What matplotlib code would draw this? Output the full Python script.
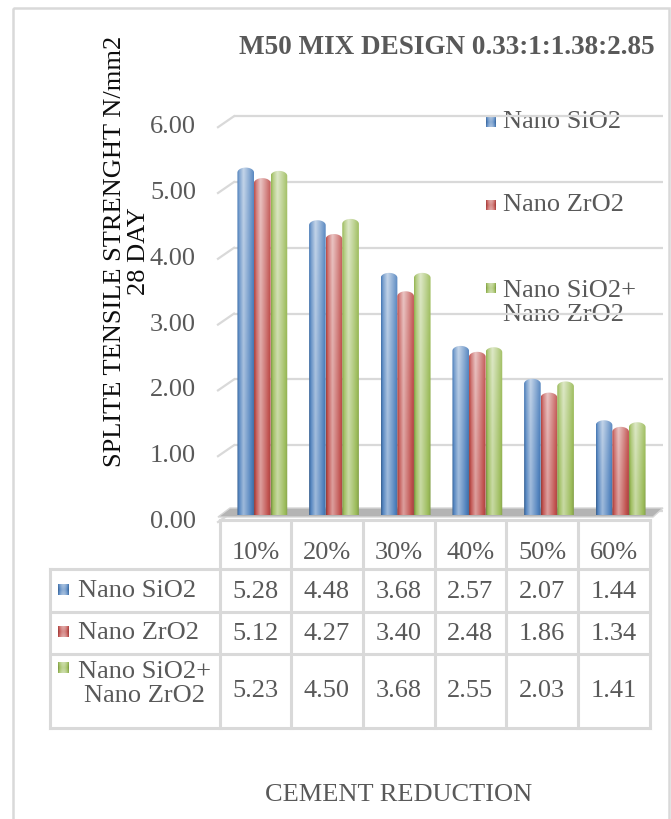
import numpy as np
import matplotlib
matplotlib.use("Agg")
import matplotlib.pyplot as plt
from matplotlib.path import Path
from matplotlib.patches import Rectangle, Polygon, PathPatch

# ---- data ----
categories = ["10%", "20%", "30%", "40%", "50%", "60%"]
series_names = ["Nano SiO2", "Nano ZrO2", "Nano SiO2+\nNano ZrO2"]
nano_sio2 = [5.28, 4.48, 3.68, 2.57, 2.07, 1.44]
nano_zro2 = [5.12, 4.27, 3.40, 2.48, 1.86, 1.34]
nano_mix = [5.23, 4.50, 3.68, 2.55, 2.03, 1.41]
y_ticks = [0, 1, 2, 3, 4, 5, 6]
title = "M50 MIX DESIGN 0.33:1:1.38:2.85"
y_label = "SPLITE TENSILE STRENGHT N/mm2\n28 DAY"
x_label = "CEMENT REDUCTION"

series_values = [nano_sio2, nano_zro2, nano_mix]
series_colors = ["#4F81BD", "#C0504D", "#9BBB59"]

W, H = 671, 819
FONT = "Liberation Serif"
GRAY = "#595959"
LINE = "#d9d9d9"

fig = plt.figure(figsize=(W / 100, H / 100), dpi=100)
fig.patch.set_facecolor("white")

# overlay axes in pixel units for frame, table and labels
fx = fig.add_axes([0, 0, 1, 1])
fx.set_xlim(0, W)
fx.set_ylim(H, 0)
fx.axis("off")

# plot axes geometry (pixels)
X_LEFT, X_RIGHT = 219.5, 649.5
COL = (X_RIGHT - X_LEFT) / len(categories)
Y_ZERO, Y_TOP = 515.0, 115.0
PX_PER_UNIT = 65.8

ax = fig.add_axes([X_LEFT / W, 1 - Y_ZERO / H, (X_RIGHT - X_LEFT) / W, (Y_ZERO - Y_TOP) / H])
ax.set_xlim(-0.5, len(categories) - 0.5)
ax.set_ylim(0, (Y_ZERO - Y_TOP) / PX_PER_UNIT)
ax.axis("off")
ax.set_zorder(2)
fx.set_zorder(1)


def px2x(px):
    return (px - X_LEFT) / COL - 0.5


def dy(px):
    return px / PX_PER_UNIT


# chart frame
fx.add_patch(Rectangle((12.5, 7.5), 656, 830, fill=False, ec=LINE, lw=1.8))

# back wall gridlines and side wall slants
for v in y_ticks:
    ax.plot([px2x(234), px2x(663)], [v + dy(4), v + dy(4)], color=LINE, lw=1.6,
            clip_on=False, zorder=1, solid_capstyle="butt")
    ax.plot([px2x(218), px2x(234)], [v - dy(7), v + dy(4)], color=LINE, lw=1.6,
            clip_on=False, zorder=1)
    ax.text(px2x(196), v - dy(7), f"{v:.2f}", ha="right", va="center",
            fontsize=19, family=FONT, color=GRAY, clip_on=False)

# floor
floor = Polygon([(px2x(218), -dy(2)), (px2x(653), -dy(2)),
                 (px2x(663), dy(7)), (px2x(230), dy(7))],
                closed=True, fc="#b4b4b4", ec="#d6d6d6", lw=1.0, clip_on=False, zorder=1.5)
ax.add_patch(floor)


def cylinder_image(base, ny=120, nx=40, vert=0.22):
    rgb = np.array(matplotlib.colors.to_rgb(base))
    t = np.linspace(0, 1, nx)
    # horizontal lighting: dark edge, highlight left of centre, darker right edge
    light = np.interp(t, [0, 0.12, 0.38, 0.7, 1.0], [-0.25, 0.05, 0.45, 0.15, -0.15])
    yy = np.linspace(0, 1, ny)[:, None]
    light = light[None, :] + vert * yy ** 1.5
    img = np.empty((ny, nx, 3))
    for c in range(3):
        pos = rgb[c] + (1 - rgb[c]) * np.clip(light, 0, None)
        neg = rgb[c] * (1 + np.clip(light, None, 0))
        img[:, :, c] = np.where(light >= 0, pos, neg)
    return np.clip(img, 0, 1)


def key_image(base, n=12):
    rgb = np.array(matplotlib.colors.to_rgb(base))
    t = np.linspace(-1, 1, n)
    tx, ty = np.meshgrid(t, t)
    # bevelled square: darker sides, lighter middle band
    light = 0.35 - 0.55 * np.abs(tx) ** 2 + 0.15 * np.abs(ty)
    img = np.empty((n, n, 3))
    for c in range(3):
        pos = rgb[c] + (1 - rgb[c]) * np.clip(light, 0, None)
        neg = rgb[c] * (1 + np.clip(light, None, 0))
        img[:, :, c] = np.where(light >= 0, pos, neg)
    return np.clip(img, 0, 1)


bar_w = 16.6 / COL
shift = 7.0 / COL
cap = dy(5)
x_idx = np.arange(len(categories))
for s, (vals, col) in enumerate(zip(series_values, series_colors)):
    xs = x_idx + shift + (s - 1) * bar_w
    bars = ax.bar(xs, vals, width=bar_w, color="none", edgecolor="none", zorder=3)
    img = cylinder_image(col)
    for b in bars:
        x0, w, h = b.get_x(), b.get_width(), b.get_height()
        tt = np.linspace(0, np.pi, 30)
        arc_x = x0 + w / 2 - (w / 2) * np.cos(tt)
        arc_y = h - cap + cap * np.sin(tt)
        verts = [(x0, 0), (x0, h - cap)] + list(zip(arc_x, arc_y)) + [(x0 + w, 0), (x0, 0)]
        codes = [Path.MOVETO] + [Path.LINETO] * (len(verts) - 2) + [Path.CLOSEPOLY]
        clip = PathPatch(Path(verts, codes), transform=ax.transData, fc="none", ec="none")
        ax.add_patch(clip)
        im = ax.imshow(img, extent=[x0, x0 + w, 0, h], origin="lower",
                       aspect="auto", zorder=3, interpolation="bilinear")
        im.set_clip_path(clip)

ax.set_xlim(-0.5, len(categories) - 0.5)
ax.set_ylim(0, (Y_ZERO - Y_TOP) / PX_PER_UNIT)


def key_marker(axis, x, y, col, size=11):
    axis.imshow(key_image(col), extent=[x, x + size, y + size / 2, y - size / 2],
                aspect="auto", zorder=5, interpolation="bilinear")


# title and axis labels
fx.text(447, 47, title, ha="center", va="center", fontsize=19.5, family=FONT,
        weight="bold", color=GRAY)
fx.text(127, 251, y_label, ha="center", va="center", rotation=90, fontsize=19,
        family=FONT, color="#0d0d0d", multialignment="center", linespacing=1.15)
fx.text(399, 795, x_label, ha="center", va="center", fontsize=19, family=FONT, color=GRAY)

# legend on the right
legend_key_y = [122, 205, 288]
legend_text_y = [122, 205, 303]
for name, col, ky, ty in zip(series_names, series_colors, legend_key_y, legend_text_y):
    key_marker(fx, 486, ky, col, size=10)
    fx.text(503, ty, name, ha="left", va="center", fontsize=19, family=FONT,
            color=GRAY, linespacing=1.15)

# data table
col_edges = [X_LEFT + COL * k for k in range(len(categories) + 1)]
row_edges = [520, 569, 612, 654, 728]
LEFT_TAB = 50
tab_lw = 2.2
fx.plot([X_LEFT, X_RIGHT], [row_edges[0]] * 2, color=LINE, lw=tab_lw)
for yv in row_edges[1:]:
    fx.plot([LEFT_TAB, X_RIGHT], [yv, yv], color=LINE, lw=tab_lw)
for xv in col_edges:
    fx.plot([xv, xv], [row_edges[0], row_edges[-1]], color=LINE, lw=tab_lw)
fx.plot([LEFT_TAB, LEFT_TAB], [row_edges[1], row_edges[-1]], color=LINE, lw=tab_lw)

for k, cat in enumerate(categories):
    cx = (col_edges[k] + col_edges[k + 1]) / 2
    fx.text(cx, 553, cat, ha="center", va="center", fontsize=19, family=FONT, color=GRAY)

row_centers = [592, 634, 691]
row_key_y = [590, 632, 668]
row_text_y = [591, 633, 684]
for r, (name, vals, col) in enumerate(zip(series_names, series_values, series_colors)):
    for k, v in enumerate(vals):
        cx = (col_edges[k] + col_edges[k + 1]) / 2
        fx.text(cx, row_centers[r], f"{v:.2f}", ha="center", va="center",
                fontsize=19, family=FONT, color=GRAY)
    key_marker(fx, 58, row_key_y[r], col, size=11)
    fx.text(78, row_text_y[r], name, ha="left", va="center", fontsize=19, family=FONT,
            color=GRAY, multialignment="center", linespacing=1.15)

fig.savefig("out.png", dpi=100, facecolor="white")
